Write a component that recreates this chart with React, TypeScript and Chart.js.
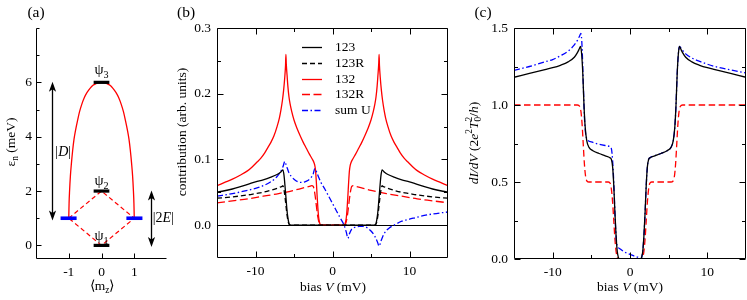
import React, { useEffect, useRef } from "react";
import { Chart, registerables } from "chart.js";
Chart.register(...registerables);

const SERIF = "'Liberation Serif', 'Times New Roman', Times, serif";
const W = 747;
const H = 300;

// ---------------- Panel (a): level scheme ----------------
const aXTicks = [-1, 0, 1];
const aYTicks = [0, 2, 4, 6];
const aYMinor = [1, 3, 5, 7, 8];
const aPsiLevels = [0, 2, 6];
const aPsiNames = ["1", "2", "3"];
const aPsiLabelY = [0.2, 2.22, 6.3];
const aPsiBarX = [-0.24, 0.24];
const aSideLevel = 1;
const aSideBarLeftX = [-1.25, -0.76];
const aSideBarRightX = [0.76, 1.25];
const aArcX = [-1, -0.99, -0.975, -0.95, -0.92, -0.88, -0.84, -0.79, -0.73, -0.67, -0.6, -0.52, -0.44, -0.35, -0.26, -0.17, -0.08, 0, 0.08, 0.17, 0.26, 0.35, 0.44, 0.52, 0.6, 0.67, 0.73, 0.79, 0.84, 0.88, 0.92, 0.95, 0.975, 0.99, 1];
const aArcY = [1, 1.55, 2.0, 2.55, 3.0, 3.5, 3.9, 4.25, 4.6, 4.92, 5.2, 5.45, 5.63, 5.78, 5.89, 5.95, 5.99, 6, 5.99, 5.95, 5.89, 5.78, 5.63, 5.45, 5.2, 4.92, 4.6, 4.25, 3.9, 3.5, 3.0, 2.55, 2.0, 1.55, 1];
const aDiamondX = [-1, 0, 1, 0, -1];
const aDiamondY = [1, 2, 1, 0, 1];
const aArrowD = { x: -1.52, y0: 0.92, y1: 6.02 };
const aArrow2E = { x: 1.5, y0: -0.06, y1: 2.02 };
const aLabelD = { x: -1.17, y: 3.28 };
const aLabel2E = { x: 1.89, y: 0.86 };

// ---------------- Panel (b): contributions ----------------
const bXTicks = [-10, 0, 10];
const bXMinor = [-5, 5];
const bYTicks = [0, 0.1, 0.2, 0.3];
const bYMinor = [0.05, 0.15, 0.25];
const bLabels = ["123", "123R", "132", "132R", "sum U"];

const b123V = [-15, -13, -11, -10, -9, -8, -7.2, -6.8, -6.55, -6.45, -6.3, -6.15, -6, -5.85, -5.7, -5.55, 5.55, 5.7, 5.85, 6, 6.15, 6.3, 6.45, 6.55, 6.8, 7.2, 8, 9, 10, 11, 13, 15];
const b123 = [0.05, 0.055, 0.062, 0.066, 0.069, 0.073, 0.077, 0.08, 0.083, 0.084, 0.076, 0.057, 0.035, 0.016, 0.005, 0, 0, 0.005, 0.016, 0.035, 0.057, 0.076, 0.084, 0.083, 0.08, 0.077, 0.073, 0.069, 0.066, 0.062, 0.055, 0.05];
const b123R = [0.041, 0.043, 0.046, 0.048, 0.05, 0.053, 0.056, 0.058, 0.059, 0.06, 0.054, 0.041, 0.025, 0.011, 0.003, 0, 0, 0.003, 0.011, 0.025, 0.041, 0.054, 0.06, 0.059, 0.058, 0.056, 0.053, 0.05, 0.048, 0.046, 0.043, 0.041];

const b132V = [-15, -14, -13, -12, -11, -10.4, -9.8, -9.3, -8.8, -8.4, -8, -7.6, -7.2, -6.9, -6.7, -6.5, -6.35, -6.2, -6.1, -6.05, -6, -5.9, -5.8, -5.65, -5.5, -5.3, -5, -4.6, -4.2, -3.8, -3.4, -3, -2.6, -2.4, -2.3, -2.2, -2.1, -2, -1.9, -1.8, -1.7, -1.6, -1.5,
  1.5, 1.6, 1.7, 1.8, 1.9, 2, 2.1, 2.2, 2.3, 2.4, 2.6, 3, 3.4, 3.8, 4.2, 4.6, 5, 5.3, 5.5, 5.65, 5.8, 5.9, 6, 6.05, 6.1, 6.2, 6.35, 6.5, 6.7, 6.9, 7.2, 7.6, 8, 8.4, 8.8, 9.3, 9.8, 10.4, 11, 12, 13, 14, 15];
const b132 = [0.06, 0.065, 0.07, 0.076, 0.083, 0.089, 0.096, 0.102, 0.11, 0.118, 0.126, 0.136, 0.15, 0.163, 0.175, 0.19, 0.205, 0.225, 0.243, 0.26, 0.245, 0.228, 0.212, 0.195, 0.184, 0.173, 0.16, 0.147, 0.136, 0.126, 0.117, 0.108, 0.1, 0.095, 0.091, 0.083, 0.066, 0.045, 0.026, 0.012, 0.005, 0.001, 0,
  0, 0.001, 0.005, 0.012, 0.026, 0.045, 0.066, 0.083, 0.091, 0.095, 0.1, 0.108, 0.117, 0.126, 0.136, 0.147, 0.16, 0.173, 0.184, 0.195, 0.212, 0.228, 0.245, 0.26, 0.243, 0.225, 0.205, 0.19, 0.175, 0.163, 0.15, 0.136, 0.126, 0.118, 0.11, 0.102, 0.096, 0.089, 0.083, 0.076, 0.07, 0.065, 0.06];

const b132RV = [-15, -13, -11, -9, -7, -5, -4, -3, -2.7, -2.5, -2.35, -2.2, -2.05, -1.9, -1.75, -1.6, 1.6, 1.75, 1.9, 2.05, 2.2, 2.35, 2.5, 2.7, 3, 4, 5, 7, 9, 11, 13, 15];
const b132R = [0.034, 0.037, 0.04, 0.044, 0.048, 0.053, 0.056, 0.059, 0.06, 0.059, 0.052, 0.04, 0.025, 0.012, 0.004, 0, 0, 0.004, 0.012, 0.025, 0.04, 0.052, 0.059, 0.06, 0.059, 0.056, 0.053, 0.048, 0.044, 0.04, 0.037, 0.034];

const bSumV = [-15, -13, -11, -10, -9, -8, -7.2, -6.7, -6.4, -6.2, -6, -5.7, -5.4, -5, -4.5, -4, -3.6, -3.2, -2.8, -2.5, -2.3, -2.1, -1.8, -1.5, -1, -0.5, 0, 0.5, 1, 1.5, 1.8, 2, 2.2, 2.5, 3, 3.5, 4, 4.5, 5, 5.5, 5.85, 6.05, 6.3, 6.7, 7.4, 8, 9, 10, 11.3, 13, 15];
const bSum = [0.044, 0.048, 0.053, 0.056, 0.06, 0.066, 0.074, 0.082, 0.09, 0.097, 0.091, 0.081, 0.075, 0.07, 0.066, 0.065, 0.066, 0.068, 0.072, 0.078, 0.086, 0.082, 0.073, 0.065, 0.055, 0.044, 0.033, 0.022, 0.011, 0, -0.011, -0.02, -0.013, -0.006, -0.003, -0.002, -0.002, -0.004, -0.009, -0.017, -0.026, -0.032, -0.024, -0.013, -0.004, 0, 0.006, 0.009, 0.013, 0.017, 0.02];

// ---------------- Panel (c): dI/dV ----------------
const cXTicks = [-10, 0, 10];
const cXMinor = [-5, 5];
const cYTicks = [0, 0.5, 1, 1.5];
const cYMinor = [0.25, 0.75, 1.25];

const cBlackV = [-15, -13, -11, -10, -9, -8, -7.2, -6.8, -6.55, -6.4, -6.25, -6.1, -5.95, -5.8, -5.6, -5.3, -4.8, -4, -3.2, -2.6, -2.4, -2.25, -2.1, -1.95, -1.8, -1.65, -1.5, -1.4,
  1.4, 1.5, 1.65, 1.8, 1.95, 2.1, 2.25, 2.4, 2.6, 3.2, 4, 4.8, 5.3, 5.6, 5.8, 5.95, 6.1, 6.25, 6.4, 6.55, 6.8, 7.2, 8, 9, 10, 11, 13, 15];
const cBlack = [1.18, 1.205, 1.23, 1.242, 1.258, 1.28, 1.31, 1.34, 1.365, 1.38, 1.33, 1.2, 1.0, 0.86, 0.77, 0.725, 0.703, 0.685, 0.67, 0.658, 0.645, 0.6, 0.48, 0.3, 0.15, 0.05, 0.01, 0,
  0, 0.01, 0.05, 0.15, 0.3, 0.48, 0.6, 0.645, 0.658, 0.67, 0.685, 0.703, 0.725, 0.77, 0.86, 1.0, 1.2, 1.33, 1.38, 1.365, 1.34, 1.31, 1.28, 1.258, 1.242, 1.23, 1.205, 1.18];

const cBlueV = [-15, -13, -11, -10, -9, -8, -7.2, -6.8, -6.5, -6.35, -6.2, -6.05, -5.9, -5.75, -5.5, -5, -4, -3, -2.6, -2.4, -2.25, -2.1, -1.95, -1.8, -1.65, -1.4, -1, -0.5, 0, 0.5, 1, 1.3, 1.42, 1.5, 1.65, 1.8, 1.95, 2.1, 2.25, 2.4, 2.6, 3.2, 4, 4.8, 5.3, 5.6, 5.8, 5.95, 6.1, 6.25, 6.4, 6.55, 6.8, 7.2, 8, 9, 10, 11, 13, 15];
const cBlue = [1.225, 1.25, 1.28, 1.295, 1.32, 1.35, 1.39, 1.42, 1.45, 1.465, 1.38, 1.15, 0.93, 0.82, 0.775, 0.76, 0.745, 0.735, 0.73, 0.715, 0.64, 0.5, 0.3, 0.15, 0.085, 0.07, 0.055, 0.04, 0.03, 0.02, 0.012, 0.004, 0, 0.01, 0.05, 0.15, 0.3, 0.48, 0.6, 0.645, 0.658, 0.67, 0.685, 0.703, 0.725, 0.77, 0.86, 1.0, 1.2, 1.33, 1.38, 1.372, 1.355, 1.332, 1.305, 1.283, 1.265, 1.25, 1.228, 1.208];

const cRedV = [-15, -6.8, -6.5, -6.35, -6.2, -6.05, -5.9, -5.75, -5.55, -5.3, -2.8, -2.55, -2.4, -2.25, -2.1, -1.95, -1.8, -1.65, -1.5,
  1.5, 1.65, 1.8, 1.95, 2.1, 2.25, 2.4, 2.55, 2.8, 5.3, 5.55, 5.75, 5.9, 6.05, 6.2, 6.35, 6.5, 6.8, 15];
const cRed = [1, 1, 0.99, 0.96, 0.88, 0.75, 0.62, 0.54, 0.505, 0.5, 0.5, 0.49, 0.45, 0.37, 0.25, 0.13, 0.05, 0.012, 0,
  0, 0.012, 0.05, 0.13, 0.25, 0.37, 0.45, 0.49, 0.5, 0.5, 0.505, 0.54, 0.62, 0.75, 0.88, 0.96, 0.99, 1, 1];

// ---------------- helpers ----------------
type Seg = { t: string; it?: boolean; sub?: boolean; sup?: boolean; ov?: boolean };

function drawRich(ctx: CanvasRenderingContext2D, segs: Seg[], x: number, y: number, size: number, rot = false, align: "center" | "left" = "center") {
  ctx.save();
  ctx.translate(x, y);
  if (rot) ctx.rotate(-Math.PI / 2);
  const items: any[] = [];
  let pos = 0;
  let prevStart = 0;
  for (const s of segs) {
    const fs = s.sub || s.sup ? size * 0.7 : size;
    ctx.font = `${s.it ? "italic " : ""}${fs}px ${SERIF}`;
    const w = ctx.measureText(s.t).width;
    const start = s.ov ? prevStart : pos;
    items.push({ s, fs, start });
    if (!s.ov) {
      prevStart = start;
      pos = start + w;
    } else {
      pos = Math.max(pos, start + w);
    }
  }
  const x0 = align === "center" ? -pos / 2 : 0;
  ctx.fillStyle = "#000";
  ctx.textAlign = "left";
  ctx.textBaseline = "alphabetic";
  for (const it of items) {
    ctx.font = `${it.s.it ? "italic " : ""}${it.fs}px ${SERIF}`;
    const dy = it.s.sub ? size * 0.25 : it.s.sup ? -size * 0.42 : 0;
    ctx.fillText(it.s.t, x0 + it.start, dy);
  }
  ctx.restore();
}

const pts = (xs: number[], ys: number[]) => xs.map((x, i) => ({ x, y: ys[i] }));

function line(label: string, data: any[], color: string, width: number, dash: number[] = [], smooth = true) {
  return {
    label,
    data,
    borderColor: color,
    backgroundColor: color,
    borderWidth: width,
    borderDash: dash,
    pointRadius: 0,
    fill: false,
    tension: 0,
    cubicInterpolationMode: smooth ? "monotone" : "default",
  };
}

function axis(o: { min: number; max: number; ticks: number[]; fmt: (v: number) => string; y: boolean; size: number; pad: number }) {
  return {
    type: "linear",
    position: o.y ? "left" : "bottom",
    min: o.min,
    max: o.max,
    grid: { display: false, drawTicks: false },
    border: { display: false },
    ticks: {
      color: "#000",
      font: { family: SERIF, size: 13.5 },
      padding: o.pad,
      autoSkip: false,
      maxRotation: 0,
      minRotation: 0,
      callback: (v: any) => o.fmt(Number(v)),
    },
    afterBuildTicks: (s: any) => {
      s.ticks = o.ticks.map((v) => ({ value: v }));
    },
    afterFit: (s: any) => {
      if (o.y) s.width = o.size;
      else s.height = o.size;
    },
  };
}

type FrameCfg = {
  box: boolean;
  zero?: boolean;
  xMajor: number[];
  xMinor: number[];
  yMajor: number[];
  yMinor: number[];
  majorLen: number;
  minorLen: number;
  draw?: (chart: any) => void;
};

function makeFrame(cfg: FrameCfg) {
  return {
    id: "frame",
    beforeDatasetsDraw(chart: any) {
      if (!cfg.zero) return;
      const { ctx, chartArea: a, scales } = chart;
      const y = Math.round(scales.y.getPixelForValue(0)) + 0.5;
      ctx.save();
      ctx.strokeStyle = "#000";
      ctx.lineWidth = 1;
      ctx.beginPath();
      ctx.moveTo(a.left, y);
      ctx.lineTo(a.right, y);
      ctx.stroke();
      ctx.restore();
    },
    afterDatasetsDraw(chart: any) {
      const { ctx, chartArea: a, scales } = chart;
      const L = Math.round(a.left) + 0.5;
      const R = Math.round(a.right) - 0.5;
      const T = Math.round(a.top) + 0.5;
      const B = Math.round(a.bottom) - 0.5;
      ctx.save();
      ctx.strokeStyle = "#000";
      ctx.lineWidth = 1;
      ctx.setLineDash([]);
      ctx.beginPath();
      if (cfg.box) {
        ctx.rect(L, T, R - L, B - T);
      } else {
        ctx.moveTo(L, T);
        ctx.lineTo(L, B);
        ctx.lineTo(R, B);
      }
      const xt = (vals: number[], len: number) => {
        for (const v of vals) {
          const p = Math.round(scales.x.getPixelForValue(v)) + 0.5;
          ctx.moveTo(p, B);
          ctx.lineTo(p, B - len);
          if (cfg.box) {
            ctx.moveTo(p, T);
            ctx.lineTo(p, T + len);
          }
        }
      };
      const yt = (vals: number[], len: number) => {
        for (const v of vals) {
          const p = Math.round(scales.y.getPixelForValue(v)) + 0.5;
          ctx.moveTo(L, p);
          ctx.lineTo(L + len, p);
          if (cfg.box) {
            ctx.moveTo(R, p);
            ctx.lineTo(R - len, p);
          }
        }
      };
      xt(cfg.xMajor, cfg.majorLen);
      xt(cfg.xMinor, cfg.minorLen);
      yt(cfg.yMajor, cfg.majorLen);
      yt(cfg.yMinor, cfg.minorLen);
      ctx.stroke();
      ctx.restore();
      if (cfg.draw) cfg.draw(chart);
    },
  };
}

function arrowHead(ctx: CanvasRenderingContext2D, x: number, y: number, dir: number) {
  // dir = -1 pointing up, +1 pointing down
  const len = 10;
  const hw = 3.6;
  const notch = 2.5;
  ctx.beginPath();
  ctx.moveTo(x, y);
  ctx.lineTo(x - hw, y - dir * len);
  ctx.lineTo(x, y - dir * (len - notch));
  ctx.lineTo(x + hw, y - dir * len);
  ctx.closePath();
  ctx.fill();
}

function drawArrow(chart: any, ar: { x: number; y0: number; y1: number }) {
  const { ctx, scales } = chart;
  const x = Math.round(scales.x.getPixelForValue(ar.x)) + 0.5;
  const yb = scales.y.getPixelForValue(ar.y0);
  const yt = scales.y.getPixelForValue(ar.y1);
  ctx.save();
  ctx.strokeStyle = "#000";
  ctx.fillStyle = "#000";
  ctx.lineWidth = 1.3;
  ctx.beginPath();
  ctx.moveTo(x, yb - 6);
  ctx.lineTo(x, yt + 6);
  ctx.stroke();
  arrowHead(ctx, x, yt, -1);
  arrowHead(ctx, x, yb, 1);
  ctx.restore();
}

// ---------------- chart configs ----------------
function configA(): any {
  const frame = makeFrame({
    box: false,
    xMajor: aXTicks,
    xMinor: [],
    yMajor: aYTicks,
    yMinor: aYMinor,
    majorLen: 5,
    minorLen: 3,
    draw: (chart: any) => {
      const { ctx, scales } = chart;
      drawArrow(chart, aArrowD);
      drawArrow(chart, aArrow2E);
      aPsiLabelY.forEach((ly, i) => {
        drawRich(ctx, [{ t: "ψ" }, { t: aPsiNames[i], sub: true }], scales.x.getPixelForValue(0), scales.y.getPixelForValue(ly), 14.5);
      });
      drawRich(ctx, [{ t: "|" }, { t: "D", it: true }, { t: "|" }], scales.x.getPixelForValue(aLabelD.x), scales.y.getPixelForValue(aLabelD.y), 14);
      drawRich(ctx, [{ t: "|2" }, { t: "E", it: true }, { t: "|" }], scales.x.getPixelForValue(aLabel2E.x), scales.y.getPixelForValue(aLabel2E.y), 14);
      drawRich(ctx, [{ t: "(a)" }], 36, 17, 15.5);
      drawRich(ctx, [{ t: "ε" }, { t: "n", sub: true }, { t: " (meV)" }], 15, 142, 13.5, true);
      drawRich(ctx, [{ t: "⟨m" }, { t: "z", sub: true }, { t: "⟩" }], 102, 290, 13.5);
    },
  });
  const bar = (xs: number[], lvl: number, color: string, w: number) => line("", xs.map((x) => ({ x, y: lvl })), color, w, [], false);
  return {
    type: "line",
    data: {
      datasets: [
        bar(aPsiBarX, aPsiLevels[0], "#000", 3.2),
        bar(aPsiBarX, aPsiLevels[1], "#000", 3.2),
        bar(aPsiBarX, aPsiLevels[2], "#000", 3.2),
        bar(aSideBarLeftX, aSideLevel, "#0000ff", 3.6),
        bar(aSideBarRightX, aSideLevel, "#0000ff", 3.6),
        line("arc", pts(aArcX, aArcY), "#ff0000", 1.3),
        line("diamond", pts(aDiamondX, aDiamondY), "#ff0000", 1.2, [4.5, 3], false),
      ],
    },
    options: {
      responsive: false,
      animation: false,
      events: [],
      layout: { padding: { left: 0, right: W - 167, top: 28, bottom: 0 } },
      plugins: { legend: { display: false }, tooltip: { enabled: false } },
      scales: {
        x: axis({ min: -2, max: 2, ticks: aXTicks, fmt: (v) => String(v), y: false, size: 41, pad: 5 }),
        y: axis({ min: -0.5, max: 8, ticks: aYTicks, fmt: (v) => String(v), y: true, size: 36, pad: 4 }),
      },
    },
    plugins: [frame],
  };
}

function configB(): any {
  const frame = makeFrame({
    box: true,
    zero: true,
    xMajor: bXTicks,
    xMinor: bXMinor,
    yMajor: bYTicks,
    yMinor: bYMinor,
    majorLen: 6,
    minorLen: 3.5,
    draw: (chart: any) => {
      const { ctx } = chart;
      const ds = chart.data.datasets;
      bLabels.forEach((lab, i) => {
        const d = ds.find((q: any) => q.label === lab);
        const y = Math.round(47 + 15.8 * i) + 0.5;
        ctx.save();
        ctx.strokeStyle = d.borderColor;
        ctx.lineWidth = d.borderWidth;
        ctx.setLineDash(d.borderDash);
        ctx.beginPath();
        ctx.moveTo(302, y);
        ctx.lineTo(322, y);
        ctx.stroke();
        ctx.restore();
        ctx.save();
        ctx.fillStyle = "#000";
        ctx.font = `13.5px ${SERIF}`;
        ctx.textBaseline = "middle";
        ctx.fillText(lab, 335, y);
        ctx.restore();
      });
      drawRich(ctx, [{ t: "(b)" }], 186, 17, 15.5);
      drawRich(ctx, [{ t: "contribution (arb. units)" }], 186, 132, 13.5, true);
      drawRich(ctx, [{ t: "bias " }, { t: "V", it: true }, { t: " (mV)" }], 333, 290.5, 13.5);
    },
  });
  return {
    type: "line",
    data: {
      datasets: [
        line("123", pts(b123V, b123), "#000", 1.3),
        line("123R", pts(b123V, b123R), "#000", 1.3, [5, 3]),
        line("sum U", pts(bSumV, bSum), "#0000ff", 1.3, [6, 2.5, 1.5, 2.5]),
        line("132", pts(b132V, b132), "#ff0000", 1.3),
        line("132R", pts(b132RV, b132R), "#ff0000", 1.3, [8, 3.5]),
      ],
    },
    options: {
      responsive: false,
      animation: false,
      events: [],
      layout: { padding: { left: 217 - 40, right: W - 448, top: 28, bottom: H - 258 - 30 } },
      plugins: { legend: { display: false }, tooltip: { enabled: false } },
      scales: {
        x: axis({ min: -15, max: 15, ticks: bXTicks, fmt: (v) => String(v), y: false, size: 30, pad: 5 }),
        y: axis({ min: -0.05, max: 0.3, ticks: bYTicks, fmt: (v) => v.toFixed(1), y: true, size: 40, pad: 6 }),
      },
    },
    plugins: [frame],
  };
}

function configC(): any {
  const frame = makeFrame({
    box: true,
    xMajor: cXTicks,
    xMinor: cXMinor,
    yMajor: cYTicks,
    yMinor: cYMinor,
    majorLen: 6,
    minorLen: 3.5,
    draw: (chart: any) => {
      const { ctx } = chart;
      drawRich(ctx, [{ t: "(c)" }], 483, 17, 15.5);
      drawRich(
        ctx,
        [
          { t: "dI/dV", it: true },
          { t: " (2" },
          { t: "e", it: true },
          { t: "2", sup: true },
          { t: "T", it: true },
          { t: "0", sub: true },
          { t: "2", sup: true, ov: true },
          { t: "/" },
          { t: "h", it: true },
          { t: ")" },
        ],
        478,
        143,
        13.5,
        true
      );
      drawRich(ctx, [{ t: "bias " }, { t: "V", it: true }, { t: " (mV)" }], 630, 290.5, 13.5);
    },
  });
  return {
    type: "line",
    data: {
      datasets: [
        line("total", pts(cBlackV, cBlack), "#000", 1.3),
        line("sum U", pts(cBlueV, cBlue), "#0000ff", 1.3, [6, 2.5, 1.5, 2.5]),
        line("single", pts(cRedV, cRed), "#ff0000", 1.3, [6.5, 3.5]),
      ],
    },
    options: {
      responsive: false,
      animation: false,
      events: [],
      layout: { padding: { left: 514 - 40, right: W - 746, top: 28, bottom: H - 259 - 30 } },
      plugins: { legend: { display: false }, tooltip: { enabled: false } },
      scales: {
        x: axis({ min: -15, max: 15, ticks: cXTicks, fmt: (v) => String(v), y: false, size: 30, pad: 5 }),
        y: axis({ min: 0, max: 1.5, ticks: cYTicks, fmt: (v) => v.toFixed(1), y: true, size: 40, pad: 6 }),
      },
    },
    plugins: [frame],
  };
}

export default function App() {
  const ra = useRef<HTMLCanvasElement>(null);
  const rb = useRef<HTMLCanvasElement>(null);
  const rc = useRef<HTMLCanvasElement>(null);
  useEffect(() => {
    const charts = [
      new Chart(ra.current as HTMLCanvasElement, configA()),
      new Chart(rb.current as HTMLCanvasElement, configB()),
      new Chart(rc.current as HTMLCanvasElement, configC()),
    ];
    return () => charts.forEach((c) => c.destroy());
  }, []);
  const st: React.CSSProperties = { position: "absolute", left: 0, top: 0, width: W, height: H };
  return (
    <div style={{ position: "fixed", left: 0, top: 0, width: W, height: H, background: "#fff" }}>
      <canvas ref={ra} width={W} height={H} style={st} />
      <canvas ref={rb} width={W} height={H} style={st} />
      <canvas ref={rc} width={W} height={H} style={st} />
    </div>
  );
}
